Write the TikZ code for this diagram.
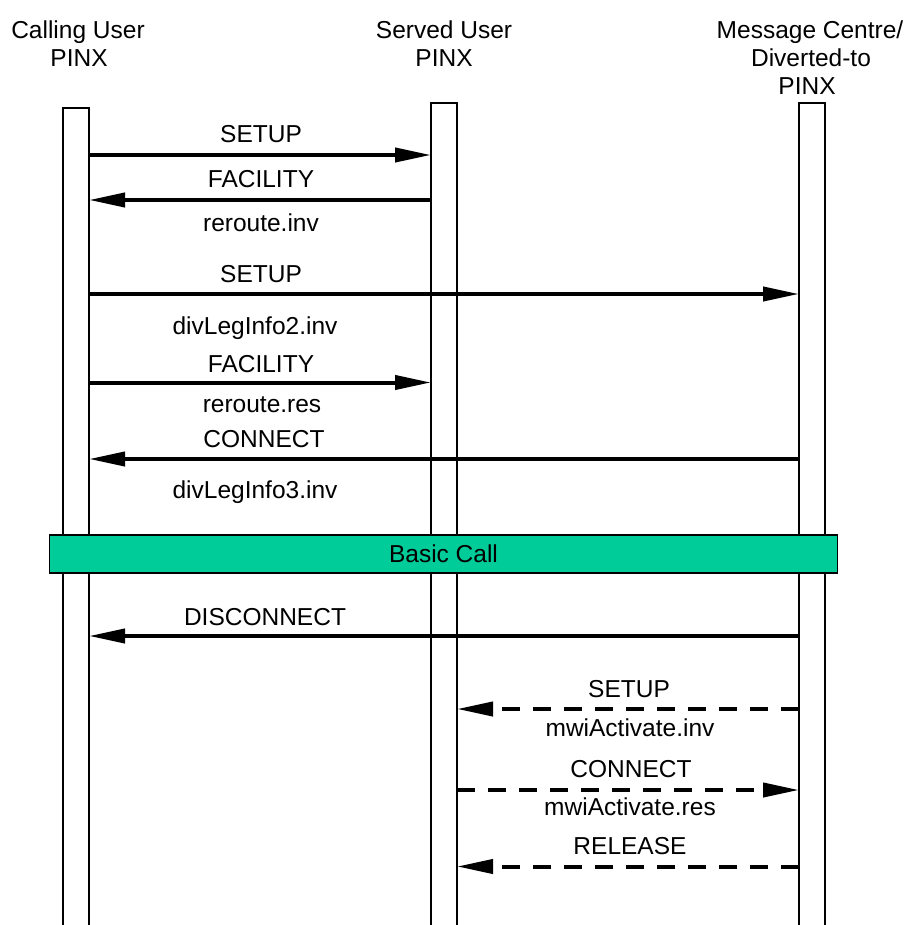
\documentclass[tikz,border=0pt]{standalone}
\usepackage{fontspec}
\setmainfont{Liberation Sans}
\usetikzlibrary{arrows.meta}
\definecolor{callgreen}{HTML}{00CC99}
\tikzset{
  lifeline/.style={line width=1.3pt, fill=white},
  msg/.style={line width=4pt, -{Triangle[length=36pt,width=14pt]}},
  dmsg/.style={msg, dash pattern=on 18pt off 13pt},
  lbl/.style={anchor=base, inner sep=0pt, font=\fontsize{24.5}{28}\selectfont},
  phase/.style={draw, line width=1.3pt, fill=callgreen, inner sep=0pt, minimum width=788pt, minimum height=38pt, font=\fontsize{24.5}{28}\selectfont}
}
\begin{document}
\begin{tikzpicture}[x=1pt,y=-1pt]
\useasboundingbox (0,0) rectangle (911,925);
% headers
\node[lbl] (h1a) at (78,38.5) {Calling User};
\node[lbl] (h1b) at (79,66.5) {PINX};
\node[lbl] (h2a) at (444,38.5) {Served User};
\node[lbl] (h2b) at (444,66.5) {PINX};
\node[lbl] (h3a) at (810,38.5) {Message Centre/};
\node[lbl] (h3b) at (811,66.5) {Diverted-to};
\node[lbl] (h3c) at (807,94.5) {PINX};
% lifelines
\draw[lifeline] (63,926) -- (63,108) -- (89,108) -- (89,926);
\draw[lifeline] (431,926) -- (431,103) -- (457,103) -- (457,926);
\draw[lifeline] (799,926) -- (799,103) -- (825,103) -- (825,926);
% message end points
\coordinate (a1) at (89,155);   \coordinate (b1) at (431,155);
\coordinate (a2) at (431,200);  \coordinate (b2) at (89,200);
\coordinate (a3) at (89,294);   \coordinate (b3) at (799,294);
\coordinate (a4) at (89,382.5); \coordinate (b4) at (431,382.5);
\coordinate (a5) at (799,459);  \coordinate (b5) at (89,459);
\coordinate (a6) at (799,636);  \coordinate (b6) at (89,636);
\coordinate (a7) at (799,709);  \coordinate (b7) at (457,709);
\coordinate (a8) at (457,790);  \coordinate (b8) at (799,790);
\coordinate (a9) at (799,866.5);\coordinate (b9) at (457,866.5);
% messages
\draw[msg] (a1) -- (b1);
\node[lbl] (l1) at (261,142.5) {SETUP};
\draw[msg] (a2) -- (b2);
\node[lbl] (l2) at (261,188) {FACILITY};
\node[lbl] (l2b) at (261,232) {reroute.inv};
\draw[msg] (a3) -- (b3);
\node[lbl] (l3) at (261,282) {SETUP};
\node[lbl] (l3b) at (255,334) {divLegInfo2.inv};
\draw[msg] (a4) -- (b4);
\node[lbl] (l4) at (261,372.5) {FACILITY};
\node[lbl] (l4b) at (262,412) {reroute.res};
\draw[msg] (a5) -- (b5);
\node[lbl] (l5) at (264,447.5) {CONNECT};
\node[lbl] (l5b) at (255,498.5) {divLegInfo3.inv};
% basic call
\node[phase] (bc) at (443.5,554) {Basic Call};
\draw[msg] (a6) -- (b6);
\node[lbl] (l6) at (265,625.5) {DISCONNECT};
\draw[dmsg] (a7) -- (b7);
\node[lbl] (l7) at (629,697) {SETUP};
\node[lbl] (l7b) at (630,736) {mwiActivate.inv};
\draw[dmsg] (a8) -- (b8);
\node[lbl] (l8) at (631,777) {CONNECT};
\node[lbl] (l8b) at (630,815) {mwiActivate.res};
\draw[dmsg] (a9) -- (b9);
\node[lbl] (l9) at (630,854) {RELEASE};
\end{tikzpicture}
\end{document}
